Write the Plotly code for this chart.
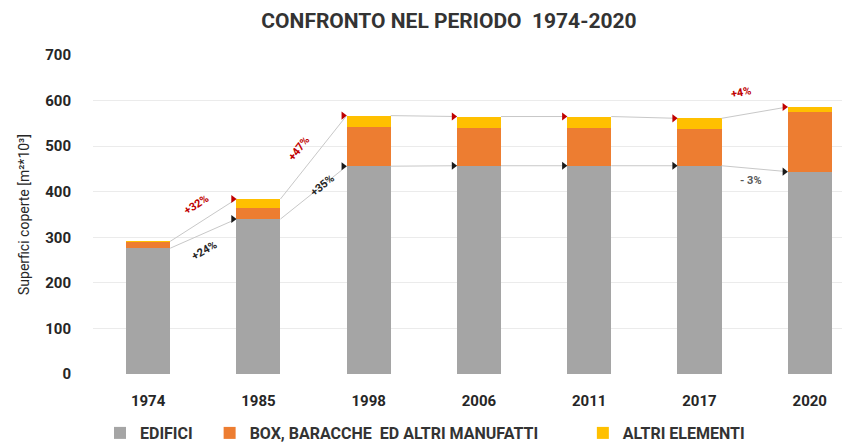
import plotly.graph_objects as go

years = ["1974", "1985", "1998", "2006", "2011", "2017", "2020"]
edifici = [276, 340, 456, 457, 457, 457, 444]
box = [14, 25, 86, 83, 83, 81, 131]
altri = [1, 19, 25, 25, 25, 23, 11]

series_names = ["EDIFICI" + "\u00a0" * 3,
                "BOX, BARACCHE\u00a0\u00a0ED ALTRI MANUFATTI" + "\u00a0" * 10,
                "ALTRI ELEMENTI"]
colors = ["#A5A5A5", "#ED7D31", "#FFC000"]

# percentage labels: text, x (category units), y (value), rotation, colour
pct_labels = ["+32%", "+24%", "+35%", "+47%", "+4%", "- 3%"]
pct_x = [0.44, 0.51, 1.58, 1.37, 5.38, 5.47]
pct_y = [372, 271, 414, 494, 617, 424]
pct_rot = [-33, -30, -39, -52, -10, 0]
pct_col = ["#C00000", "#262626", "#262626", "#C00000", "#C00000", "#595959"]

FONT = "Roboto, sans-serif"
BAR_W = 0.40

fig = go.Figure()
for name, vals, c in zip(series_names, [edifici, box, altri], colors):
    fig.add_trace(go.Bar(x=list(range(len(years))), y=vals, name=name, marker_color=c,
                         width=BAR_W, marker_line_width=0))

totals = [a + b + c for a, b, c in zip(edifici, box, altri)]
hw = BAR_W / 2
for level, head_col in [(edifici, "#1a1a1a"), (totals, "#C00000")]:
    for i in range(len(years) - 1):
        x0, x1 = i + hw, i + 1 - hw
        fig.add_trace(go.Scatter(x=[x0, x1], y=[level[i], level[i + 1]], mode="lines",
                                 line=dict(color="#C8C8C8", width=1), showlegend=False,
                                 hoverinfo="skip"))
        fig.add_trace(go.Scatter(x=[x1 - 0.03], y=[level[i + 1]], mode="markers",
                                 marker=dict(symbol="triangle-right", size=7, color=head_col),
                                 showlegend=False, hoverinfo="skip"))

for t, x, y, r, c in zip(pct_labels, pct_x, pct_y, pct_rot, pct_col):
    fig.add_annotation(x=x, y=y, text="<b>" + t + "</b>", showarrow=False, textangle=r,
                       font=dict(family=FONT, size=11, color=c))

fig.update_layout(
    width=850, height=445,
    barmode="stack",
    plot_bgcolor="white", paper_bgcolor="white",
    margin=dict(l=85, r=8, t=47, b=79, autoexpand=False),
    title=dict(text="<b>CONFRONTO NEL PERIODO  1974-2020</b>", x=441 / 850, xanchor="center",
               xref="container", yref="container", y=1 - 13 / 445, yanchor="middle",
               font=dict(family=FONT, size=21, color="#333333")),
    font=dict(family=FONT, color="#333333"),
    xaxis=dict(tickmode="array", tickvals=list(range(len(years))),
               ticktext=["<b>" + y + "</b>" for y in years], range=[-0.5, 6.365],
               showgrid=False, zeroline=False, showline=False, ticks="",
               ticklabelstandoff=16,
               tickfont=dict(family=FONT, size=15, color="#262626")),
    yaxis=dict(range=[0, 700], dtick=100, showgrid=True, gridcolor="#EBEBEB", gridwidth=1,
               zeroline=False, ticks="", ticklabelstandoff=21,
               tickfont=dict(family=FONT, size=15, color="#262626"),
               tickprefix="<b>", ticksuffix="</b>",
               title=dict(text="Superfici coperte [m²*10³]", standoff=12,
                          font=dict(family=FONT, size=14, color="#262626"))),
    legend=dict(orientation="h", x=92 / 850, xref="container", y=20 / 445, yref="container",
                yanchor="middle", xanchor="left",
                font=dict(family=FONT, size=16, color="#333333", weight="bold"),
                itemwidth=30, traceorder="normal"),
    showlegend=True,
)

fig.write_html("out.html")
